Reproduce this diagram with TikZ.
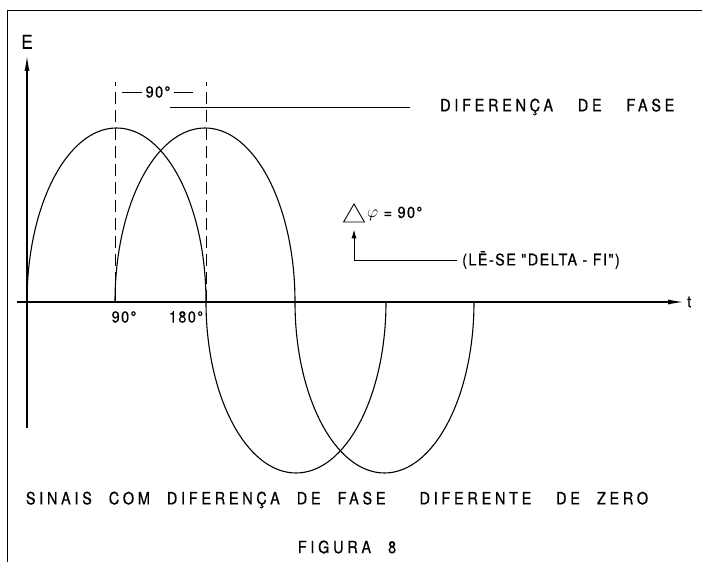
\documentclass[tikz,border=0pt]{standalone}
\usepackage{fontspec}
\usepackage{tikz}
\usetikzlibrary{arrows.meta,positioning,shapes.geometric}
\newfontfamily\lettering[LetterSpace=22,FakeStretch=0.85,FakeBold=0.6]{TeX Gyre Heros}
\newfontfamily\labelfont[LetterSpace=9,FakeStretch=0.9,FakeBold=0.5]{TeX Gyre Heros}

\begin{document}
\begin{tikzpicture}[x=1pt,y=1pt,
    wave/.style={line width=1.1pt},
    axis/.style={line width=1.4pt,-{Latex[length=16pt,width=5pt]}},
    guide/.style={line width=0.9pt,dash pattern=on 12pt off 6pt},
    caption/.style={font=\lettering\fontsize{17}{19}\selectfont,inner sep=0pt},
    tag/.style={font=\labelfont\fontsize{16}{18}\selectfont,inner sep=0pt},
    arrow/.style={-{Latex[length=9pt,width=5pt]},line width=0.9pt}]
  \useasboundingbox (0,0) rectangle (702,562);
  \draw[line width=0.8pt] (7,0) |- (702,552);
  \coordinate (origin) at (27,260);
  \coordinate (tleft) at (17,260);
  \coordinate (tend) at (684,260);
  \coordinate (ebottom) at (27,134);
  \coordinate (etop) at (27,507);
  \draw[axis] (tleft) -- (tend);
  \draw[axis] (ebottom) -- (etop);
  \node[tag,right=3pt of tend] (t) {t};
  \node[tag,font=\labelfont\fontsize{19}{21}\selectfont,above=6pt of etop] (E) {E};
  \draw[wave] (origin) arc[start angle=180,end angle=0,x radius=89.5,y radius=174]
    arc[start angle=180,end angle=360,x radius=90,y radius=171];
  \coordinate (shift) at (115,260);
  \draw[wave] (shift) arc[start angle=180,end angle=0,x radius=90,y radius=174]
    arc[start angle=180,end angle=360,x radius=89.5,y radius=171];
  \coordinate (peakA) at (115,480);
  \coordinate (peakB) at (206,480);
  \draw[guide] (shift) -- (peakA);
  \draw[guide] (peakB |- origin) -- (peakB);
  \node[tag] (span) at (158,470) {90°};
  \draw[line width=0.8pt,shorten <=3pt,shorten >=7pt] (span.west) -- (span.west -| peakA);
  \draw[line width=0.8pt,shorten <=3pt,shorten >=13pt] (span.east) -- (span.east -| peakB);
  \node[caption,anchor=west] (fase) at (440,455) {DIFERENÇA\quad\ DE\quad\ FASE};
  \coordinate (faseleft) at (170,455);
  \draw[line width=0.9pt,shorten <=30pt] (fase.west) -- (faseleft);
  \node[regular polygon,regular polygon sides=3,draw,line width=0.9pt,inner sep=0pt,
    minimum size=24pt] (delta) at (354,346) {};
  \node[tag,anchor=west] (phi) at (367,348) {$\varphi$ = 90°};
  \node[tag,anchor=west] (lese) at (462,302) {(LĒ-SE \symbol{34}DELTA - FI\symbol{34})};
  \draw[arrow,shorten <=5pt,shorten >=7pt] (lese.west) -| (delta.south);
  \node[tag] (ninety) at (124,245) {90°};
  \node[tag] (oneeighty) at (186,245) {180°};
  \node[caption] (signals) at (337,62)
    {SINAIS\quad COM\quad DIFERENÇA\quad DE\quad FASE\qquad DIFERENTE\quad\ DE\quad ZERO};
  \node[caption] (figure) at (347,15) {FIGURA\quad 8};
\end{tikzpicture}
\end{document}
